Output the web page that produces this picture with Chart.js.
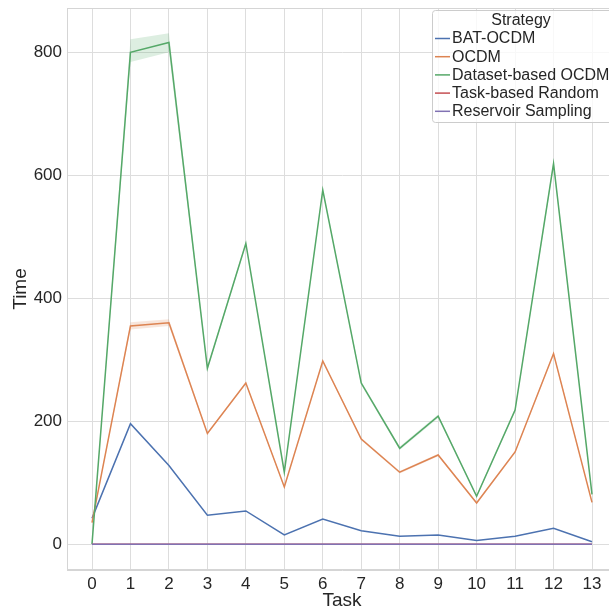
<!DOCTYPE html>
<html>
<head>
<meta charset="utf-8">
<script src="https://cdn.jsdelivr.net/npm/chart.js@4.4.1/dist/chart.umd.min.js"></script>
<style>
  html, body { margin: 0; padding: 0; background: #fff; overflow: hidden; }
  canvas { display: block; }
</style>
</head>
<body>
<canvas id="myLineChart" width="640" height="612"></canvas>
<script>
// data
var tasks = [0, 1, 2, 3, 4, 5, 6, 7, 8, 9, 10, 11, 12, 13];
var yTicks = [0, 200, 400, 600, 800];
var strategies = ['BAT-OCDM', 'OCDM', 'Dataset-based OCDM', 'Task-based Random', 'Reservoir Sampling'];
var colors = ['#4c72b0', '#dd8452', '#55a868', '#c44e52', '#8172b3'];

var batOcdm      = [42, 196, 128, 47, 54, 15, 41, 22, 13, 15, 6, 13, 26, 4];
var ocdm         = [35, 355, 360, 180, 262, 93, 298, 171, 117, 145, 67, 150, 310, 68];
var datasetOcdm  = [0, 800, 816, 286, 489, 117, 576, 262, 156, 208, 78, 218, 619, 81];
var taskRandom   = [0, 0, 0, 0, 0, 0, 0, 0, 0, 0, 0, 0, 0, 0];
var reservoir    = [0, 0, 0, 0, 0, 0, 0, 0, 0, 0, 0, 0, 0, 0];

// confidence bands
var datasetLo    = [0, 784, 800, 283, 486, 115, 573, 259, 153, 205, 76, 215, 614, 79];
var datasetHi    = [0, 821, 831, 289, 492, 119, 579, 265, 159, 211, 80, 221, 624, 83];
var ocdmLo       = [34, 349, 355, 178, 260, 91, 296, 169, 115, 143, 65, 148, 307, 66];
var ocdmHi       = [36, 361, 366, 182, 264, 95, 300, 173, 119, 147, 69, 152, 313, 70];

function pts(arr) {
    return arr.map(function (v, i) { return {x: tasks[i], y: v}; });
}

function lineSet(label, arr, color) {
    return {
        label: label,
        data: pts(arr),
        borderColor: color,
        backgroundColor: color,
        borderWidth: 1.5,
        pointRadius: 0,
        fill: false,
        tension: 0
    };
}

function bandSet(arr, fillColor, fillTo) {
    return {
        label: '',
        data: pts(arr),
        borderWidth: 0,
        borderColor: 'rgba(0,0,0,0)',
        backgroundColor: fillColor,
        pointRadius: 0,
        fill: fillTo,
        tension: 0
    };
}

var tickFont = {family: 'Liberation Sans, Arial, sans-serif', size: 17};
var titleFont = {family: 'Liberation Sans, Arial, sans-serif', size: 19};

// draws the frame and the legend box
var framePlugin = {
    id: 'frame',
    afterDraw: function (chart) {
        var c = chart.ctx, a = chart.chartArea;
        c.save();
        c.strokeStyle = '#d5d5d5';
        c.lineWidth = 1;
        c.strokeRect(a.left + 0.5, a.top + 0.5, a.right - a.left - 1, a.bottom - a.top - 1);

        var bx = 432.5, by = 10.5, bw = 180, bh = 112;
        c.beginPath();
        c.roundRect(bx, by, bw, bh, 3);
        c.fillStyle = 'rgba(255,255,255,0.8)';
        c.fill();
        c.strokeStyle = '#cccccc';
        c.stroke();

        c.fillStyle = '#262626';
        c.font = '16px "Liberation Sans", Arial, sans-serif';
        c.textBaseline = 'middle';
        c.textAlign = 'center';
        c.fillText('Strategy', 521, 21);
        c.textAlign = 'left';
        for (var i = 0; i < strategies.length; i++) {
            var y = 38.5 + i * 18.2;
            c.strokeStyle = colors[i];
            c.lineWidth = 1.5;
            c.beginPath();
            c.moveTo(435, y);
            c.lineTo(450, y);
            c.stroke();
            c.fillStyle = '#262626';
            c.fillText(strategies[i], 452, y + 0.5);
        }
        c.restore();
    }
};

var ctx = document.getElementById('myLineChart');
var myChart = new Chart(ctx, {
    type: 'line',
    data: {
        datasets: [
            lineSet(strategies[4], reservoir, colors[4]),
            lineSet(strategies[3], taskRandom, colors[3]),
            lineSet(strategies[2], datasetOcdm, colors[2]),
            lineSet(strategies[1], ocdm, colors[1]),
            lineSet(strategies[0], batOcdm, colors[0]),
            bandSet(datasetLo, 'rgba(85,168,104,0.2)', false),
            bandSet(datasetHi, 'rgba(85,168,104,0.2)', '-1'),
            bandSet(ocdmLo, 'rgba(221,132,82,0.2)', false),
            bandSet(ocdmHi, 'rgba(221,132,82,0.2)', '-1')
        ]
    },
    options: {
        responsive: false,
        animation: false,
        layout: {padding: {left: 0, top: 8, right: 23, bottom: 0}},
        plugins: {
            legend: {display: false},
            tooltip: {enabled: false}
        },
        scales: {
            x: {
                type: 'linear',
                min: -0.65,
                max: 13.65,
                afterBuildTicks: function (s) { s.ticks = tasks.map(function (t) { return {value: t}; }); },
                afterFit: function (s) { s.height = 42; s.paddingLeft = 0; s.paddingRight = 0; },
                grid: {color: '#dddddd', drawTicks: false},
                border: {display: true, color: '#d5d5d5'},
                ticks: {font: tickFont, color: '#262626', padding: 4, maxRotation: 0, autoSkip: false},
                title: {display: true, text: 'Task', font: titleFont, color: '#262626', padding: {top: 0, bottom: 0}}
            },
            y: {
                min: -42,
                max: 872,
                afterBuildTicks: function (s) { s.ticks = yTicks.map(function (t) { return {value: t}; }); },
                afterFit: function (s) { s.width = 67; s.paddingTop = 0; s.paddingBottom = 0; },
                grid: {color: '#dddddd', drawTicks: false},
                border: {display: true, color: '#d5d5d5'},
                ticks: {font: tickFont, color: '#262626', padding: 5},
                title: {display: true, text: 'Time', font: titleFont, color: '#262626', padding: {top: 9, bottom: 0}}
            }
        }
    },
    plugins: [framePlugin]
});
</script>
</body>
</html>
